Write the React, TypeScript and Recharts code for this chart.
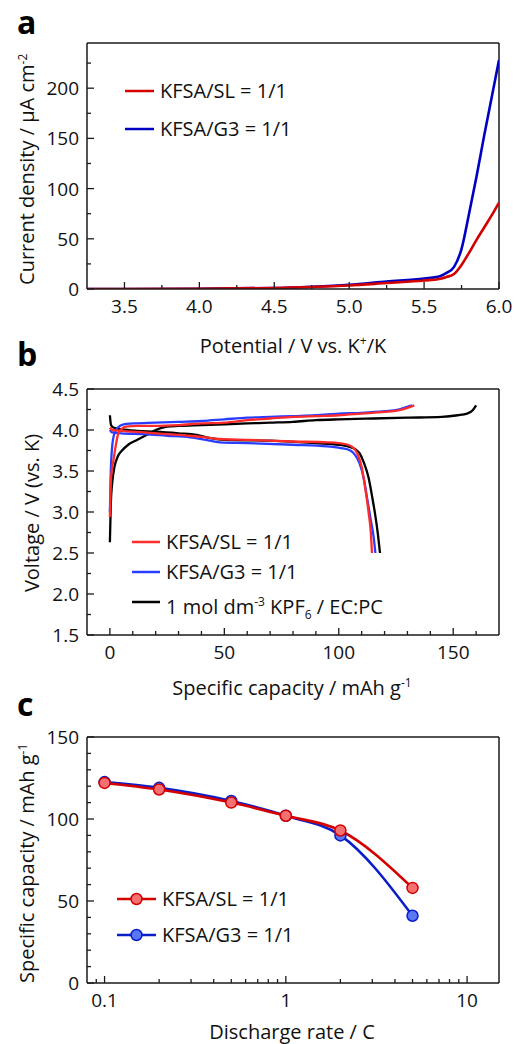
import React from 'react'
import { LineChart, Line, XAxis, YAxis, ReferenceLine } from 'recharts'

// panel a: linear sweep voltammetry
const potentials = [3.25, 3.5, 4.0, 4.5, 4.75, 5.0, 5.25, 5.5, 5.6, 5.65, 5.7, 5.75, 5.8, 5.85, 5.9, 5.95, 6.0]
const lsvSL = [0, 0, 0.3, 1, 2, 3.5, 6, 8.5, 10, 12, 15, 24, 36, 49, 61, 73, 86]
const lsvG3 = [0, 0, 0.3, 1, 2.3, 4.3, 7.5, 10.5, 12.5, 16, 22, 40, 75, 112, 152, 190, 228]

// panel b: charge / discharge curves, [capacity, voltage]
const slCharge = [[0, 2.94], [0.3, 3.3], [0.8, 3.5], [1.5, 3.62], [2.5, 3.8], [3.6, 3.95], [5, 4.01], [7, 4.04], [12, 4.05], [20, 4.05], [30, 4.06], [40, 4.08], [50, 4.09], [60, 4.12], [70, 4.14], [80, 4.16], [90, 4.17], [100, 4.18], [110, 4.2], [120, 4.22], [126, 4.24], [130, 4.27], [133, 4.3]]
const slDischarge = [[0, 4.03], [1, 4.0], [5, 3.99], [15, 3.97], [25, 3.95], [35, 3.93], [42, 3.91], [48, 3.89], [60, 3.88], [80, 3.86], [95, 3.85], [100, 3.84], [104, 3.82], [106, 3.79], [108, 3.72], [110, 3.55], [111.5, 3.3], [113, 3.0], [114, 2.75], [114.5, 2.5]]
const g3Charge = [[0, 3.0], [0.4, 3.5], [1, 3.8], [2, 3.96], [3.5, 4.03], [6, 4.07], [10, 4.08], [20, 4.09], [30, 4.1], [40, 4.11], [50, 4.13], [60, 4.15], [70, 4.16], [80, 4.17], [90, 4.18], [100, 4.2], [110, 4.21], [120, 4.23], [126, 4.25], [129.5, 4.28], [132, 4.3]]
const g3Discharge = [[0, 4.0], [1, 3.97], [5, 3.96], [15, 3.95], [25, 3.93], [35, 3.91], [42, 3.88], [48, 3.85], [60, 3.84], [80, 3.82], [95, 3.8], [101, 3.78], [105, 3.75], [107, 3.7], [109, 3.6], [111, 3.4], [112.5, 3.15], [114, 2.9], [115.2, 2.7], [116, 2.5]]
const kpfCharge = [[0, 2.63], [0.4, 3.1], [1, 3.35], [2, 3.55], [3.5, 3.68], [5, 3.74], [8, 3.82], [12, 3.88], [16, 3.94], [20, 4.0], [25, 4.04], [30, 4.05], [40, 4.06], [50, 4.07], [60, 4.08], [70, 4.09], [80, 4.1], [90, 4.12], [100, 4.13], [115, 4.14], [130, 4.15], [145, 4.16], [152, 4.18], [156, 4.2], [158.5, 4.24], [160, 4.3]]
const kpfDischarge = [[0, 4.18], [0.5, 4.06], [1.5, 4.03], [5, 4.01], [12, 3.99], [20, 3.98], [30, 3.96], [38, 3.94], [44, 3.9], [50, 3.88], [70, 3.87], [90, 3.84], [100, 3.82], [104, 3.8], [107, 3.77], [109, 3.72], [111, 3.6], [113, 3.42], [114.5, 3.2], [116, 2.95], [117, 2.75], [118, 2.5]]

// panel c: rate capability
const rates = [0.1, 0.2, 0.5, 1, 2, 5]
const rateSL = [122, 118, 110, 102, 93, 58]
const rateG3 = [122.5, 119, 111, 102, 90, 41]

const lsvData = potentials.map((v, i) => ({ v, sl: lsvSL[i], g3: lsvG3[i] }))
const toPts = (arr: number[][]) => arr.map(([c, v]) => ({ c, v }))
const rateData = rates.map((r, i) => ({ r, sl: rateSL[i], g3: rateG3[i] }))

const FONT = '"Open Sans", sans-serif'
const AX = '#1a1a1a'

const XTick = (props: any) => {
  const { x, y, payload, majors, fmt } = props
  const major = majors.some((m: number) => Math.abs(m - payload.value) < 1e-9)
  return (
    <g>
      <line x1={x} x2={x} y1={y} y2={y - (major ? 7 : 4)} stroke={AX} strokeWidth={1.3} />
      {major && (
        <text x={x} y={y + 24} textAnchor="middle" fontSize={19} fontFamily={FONT} fill="#111">
          {fmt(payload.value)}
        </text>
      )}
    </g>
  )
}

const YTick = (props: any) => {
  const { x, y, payload, majors, fmt } = props
  const major = majors.some((m: number) => Math.abs(m - payload.value) < 1e-9)
  return (
    <g>
      <line x1={x} x2={x + (major ? 7 : 4)} y1={y} y2={y} stroke={AX} strokeWidth={1.3} />
      {major && (
        <text x={x - 8} y={y + 7} textAnchor="end" fontSize={19} fontFamily={FONT} fill="#111">
          {fmt(payload.value)}
        </text>
      )}
    </g>
  )
}

const range = (a: number, b: number, s: number) => {
  const out: number[] = []
  for (let i = 0; a + i * s <= b + 1e-9; i++) out.push(+(a + i * s).toFixed(4))
  return out
}

const abs = (left: number, top: number, extra: React.CSSProperties = {}): React.CSSProperties => ({
  position: 'absolute', left, top, fontFamily: FONT, fontSize: 20, color: '#111', whiteSpace: 'nowrap', lineHeight: '24px', ...extra,
})

const YTitle = ({ cx, cy, children }: { cx: number; cy: number; children: React.ReactNode }) => (
  <div style={abs(cx - 200, cy - 12, { width: 400, textAlign: 'center', transform: 'rotate(-90deg)' })}>{children}</div>
)
const XTitle = ({ cx, cy, children }: { cx: number; cy: number; children: React.ReactNode }) => (
  <div style={abs(cx - 200, cy - 10, { width: 400, textAlign: 'center', lineHeight: '20px' })}>{children}</div>
)

const LegendRow = ({ left, cy, w, color, marker, fill, children }: any) => (
  <div style={abs(left, cy - 12)}>
    <div style={{ position: 'relative', paddingLeft: w + 6 }}>
      <div style={{ position: 'absolute', left: 0, top: 0, width: w, height: 24, overflow: 'hidden' }}>
        <svg width={w} height={24}>
          <line x1={0} x2={w} y1={12} y2={12} stroke={color} strokeWidth={2.5} />
          {marker && <circle cx={w / 2} cy={12} r={5.5} fill={fill} stroke={color} strokeWidth={1.5} />}
        </svg>
      </div>
      {children}
    </div>
  </div>
)

const Letter = ({ left, top, ch }: { left: number; top: number; ch: string }) => (
  <div style={abs(left, top, { fontSize: 32, fontWeight: 700, lineHeight: '32px', color: '#000' })}>{ch}</div>
)

export default function App() {
  const fmt1 = (v: number) => v.toFixed(1)
  const fmt0 = (v: number) => String(v)
  return (
    <div style={{ position: 'absolute', left: 0, top: 0, width: 514, height: 1044, background: '#fff', overflow: 'hidden' }}>
      {/* panel a */}
      <div style={{ position: 'absolute', left: 0, top: 0 }}>
        <LineChart width={514} height={330} margin={{ top: 43, right: 15, bottom: 11, left: 27 }}>
          <XAxis
            dataKey="v" type="number" domain={[3.25, 6.0]} allowDataOverflow height={30}
            ticks={range(3.5, 6.0, 0.25)} interval={0} tickSize={0} tickMargin={0}
            tickLine={false} axisLine={{ stroke: AX, strokeWidth: 1.5 }}
            tick={<XTick majors={range(3.5, 6.0, 0.5)} fmt={fmt1} />}
          />
          <YAxis
            type="number" domain={[0, 245]} allowDataOverflow width={60}
            ticks={range(0, 225, 25)} interval={0} tickSize={0} tickMargin={0}
            tickLine={false} axisLine={{ stroke: AX, strokeWidth: 1.5 }}
            tick={<YTick majors={range(0, 200, 50)} fmt={fmt0} />}
          />
          <ReferenceLine y={245} stroke={AX} strokeWidth={1.5} />
          <ReferenceLine x={6.0} stroke={AX} strokeWidth={1.5} />
          <Line data={lsvData} dataKey="g3" type="monotone" stroke="#0000c4" strokeWidth={2.6} dot={false} isAnimationActive={false} />
          <Line data={lsvData} dataKey="sl" type="monotone" stroke="#d40000" strokeWidth={2.6} dot={false} isAnimationActive={false} />
        </LineChart>
      </div>
      <Letter left={17} top={6} ch="a" />
      <YTitle cx={25} cy={167}>Current density / μA cm<sup style={{ fontSize: 12 }}>-2</sup></YTitle>
      <XTitle cx={293} cy={341}>Potential / V vs. K<sup style={{ fontSize: 12 }}>+</sup>/K</XTitle>
      <LegendRow left={125} cy={91} w={29} color="#d40000">KFSA/SL = 1/1</LegendRow>
      <LegendRow left={125} cy={129} w={29} color="#0000c4">KFSA/G3 = 1/1</LegendRow>

      {/* panel b */}
      <div style={{ position: 'absolute', left: 0, top: 330 }}>
        <LineChart width={514} height={340} margin={{ top: 59, right: 15, bottom: 5, left: 27 }}>
          <XAxis
            dataKey="c" type="number" domain={[-10, 170]} allowDataOverflow height={30}
            ticks={range(0, 160, 10)} interval={0} tickSize={0} tickMargin={0}
            tickLine={false} axisLine={{ stroke: AX, strokeWidth: 1.5 }}
            tick={<XTick majors={[0, 50, 100, 150]} fmt={fmt0} />}
          />
          <YAxis
            type="number" domain={[1.5, 4.5]} allowDataOverflow width={60}
            ticks={range(1.5, 4.5, 0.25)} interval={0} tickSize={0} tickMargin={0}
            tickLine={false} axisLine={{ stroke: AX, strokeWidth: 1.5 }}
            tick={<YTick majors={range(1.5, 4.5, 0.5)} fmt={fmt1} />}
          />
          <ReferenceLine y={4.5} stroke={AX} strokeWidth={1.5} />
          <ReferenceLine x={170} stroke={AX} strokeWidth={1.5} />
          <Line data={toPts(kpfCharge)} dataKey="v" type="monotone" stroke="#000" strokeWidth={2.3} dot={false} isAnimationActive={false} />
          <Line data={toPts(kpfDischarge)} dataKey="v" type="monotone" stroke="#000" strokeWidth={2.3} dot={false} isAnimationActive={false} />
          <Line data={toPts(g3Charge)} dataKey="v" type="monotone" stroke="#2a3cff" strokeWidth={2.3} dot={false} isAnimationActive={false} />
          <Line data={toPts(g3Discharge)} dataKey="v" type="monotone" stroke="#2a3cff" strokeWidth={2.3} dot={false} isAnimationActive={false} />
          <Line data={toPts(slCharge)} dataKey="v" type="monotone" stroke="#ff2a2a" strokeWidth={2.3} dot={false} isAnimationActive={false} />
          <Line data={toPts(slDischarge)} dataKey="v" type="monotone" stroke="#ff2a2a" strokeWidth={2.3} dot={false} isAnimationActive={false} />
        </LineChart>
      </div>
      <Letter left={17} top={338} ch="b" />
      <YTitle cx={32} cy={513}>Voltage / V (vs. K)</YTitle>
      <XTitle cx={292} cy={683}>Specific capacity / mAh g<sup style={{ fontSize: 12 }}>-1</sup></XTitle>
      <LegendRow left={132} cy={542} w={28} color="#ff2a2a">KFSA/SL = 1/1</LegendRow>
      <LegendRow left={132} cy={572} w={28} color="#2a3cff">KFSA/G3 = 1/1</LegendRow>
      <LegendRow left={132} cy={602} w={28} color="#000">
        1 mol dm<sup style={{ fontSize: 12 }}>-3</sup> KPF<sub style={{ fontSize: 12 }}>6</sub> / EC:PC
      </LegendRow>

      {/* panel c */}
      <div style={{ position: 'absolute', left: 0, top: 680 }}>
        <LineChart width={514} height={364} data={rateData} margin={{ top: 57, right: 15, bottom: 31, left: 27 }}>
          <XAxis
            dataKey="r" type="number" scale="log" domain={[0.08, 15]} allowDataOverflow height={30}
            ticks={[0.09, 0.1, 0.2, 0.3, 0.4, 0.5, 0.6, 0.7, 0.8, 0.9, 1, 2, 3, 4, 5, 6, 7, 8, 9, 10]}
            interval={0} tickSize={0} tickMargin={0}
            tickLine={false} axisLine={{ stroke: AX, strokeWidth: 1.5 }}
            tick={<XTick majors={[0.1, 1, 10]} fmt={fmt0} />}
          />
          <YAxis
            type="number" domain={[0, 150]} allowDataOverflow width={60}
            ticks={range(0, 150, 10)} interval={0} tickSize={0} tickMargin={0}
            tickLine={false} axisLine={{ stroke: AX, strokeWidth: 1.5 }}
            tick={<YTick majors={[0, 50, 100, 150]} fmt={fmt0} />}
          />
          <ReferenceLine y={150} stroke={AX} strokeWidth={1.5} />
          <ReferenceLine x={15} stroke={AX} strokeWidth={1.5} />
          <Line dataKey="g3" type="monotone" stroke="#0a1ec8" strokeWidth={2.6} dot={{ r: 5.5, fill: '#5a78f5', stroke: '#0a1ec8', strokeWidth: 1.5 }} isAnimationActive={false} />
          <Line dataKey="sl" type="monotone" stroke="#d40000" strokeWidth={2.6} dot={{ r: 5.5, fill: '#f57070', stroke: '#d40000', strokeWidth: 1.5 }} isAnimationActive={false} />
        </LineChart>
      </div>
      <Letter left={17} top={688} ch="c" />
      <YTitle cx={25} cy={861}>Specific capacity / mAh g<sup style={{ fontSize: 12 }}>-1</sup></YTitle>
      <XTitle cx={292} cy={1032}>Discharge rate / C</XTitle>
      <LegendRow left={117} cy={899} w={39} color="#d40000" marker fill="#f57070">KFSA/SL = 1/1</LegendRow>
      <LegendRow left={117} cy={935} w={39} color="#0a1ec8" marker fill="#5a78f5">KFSA/G3 = 1/1</LegendRow>
    </div>
  )
}
